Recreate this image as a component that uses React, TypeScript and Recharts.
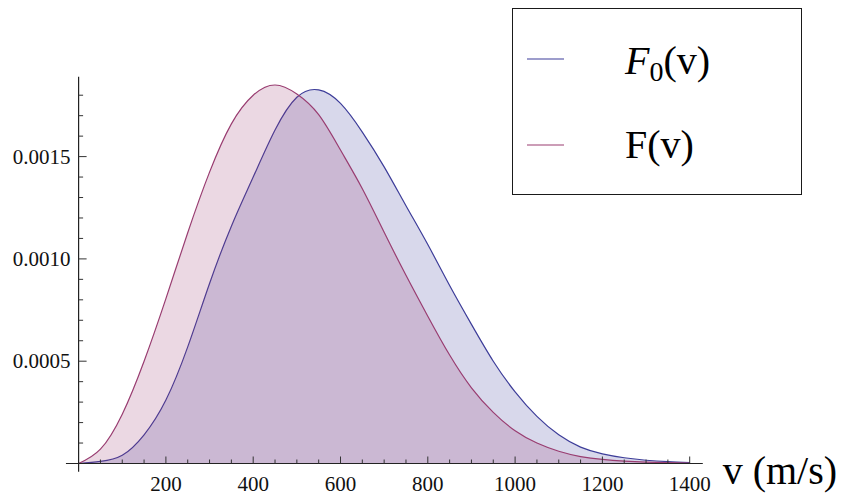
import { AreaChart, Area, XAxis, YAxis, ReferenceLine, Legend } from 'recharts'

const speeds = [0, 50, 100, 150, 200, 250, 300, 350, 400, 450, 500, 550, 600, 650, 700, 750, 800, 850, 900, 950, 1000, 1050, 1100, 1150, 1200, 1250, 1300, 1350, 1400]
const f0Values = [0, 0.00001, 0.00004, 0.00014, 0.00031, 0.00057, 0.00088, 0.00116, 0.0014, 0.00163, 0.00179, 0.001826, 0.00176, 0.00162, 0.00145, 0.00126, 0.00107, 0.00087, 0.00068, 0.0005, 0.00035, 0.00023, 0.00014, 0.00008, 0.000047, 0.000028, 0.000016, 0.000009, 0.000005]
const fValues = [0, 0.00007, 0.000241, 0.0005, 0.000806, 0.001128, 0.001424, 0.00166, 0.0018, 0.00185, 0.001806, 0.001705, 0.001532, 0.001343, 0.00113, 0.00092, 0.00072, 0.00053, 0.00037, 0.00025, 0.00016, 0.0001, 0.00006, 0.000034, 0.00002, 0.000012, 0.000007, 0.000004, 0.000002]

const xTicks = [50, 100, 150, 200, 250, 300, 350, 400, 450, 500, 550, 600, 650, 700, 750, 800, 850, 900, 950, 1000, 1050, 1100, 1150, 1200, 1250, 1300, 1350, 1400]
const yTicks = [0.0001, 0.0002, 0.0003, 0.0004, 0.0005, 0.0006, 0.0007, 0.0008, 0.0009, 0.001, 0.0011, 0.0012, 0.0013, 0.0014, 0.0015, 0.0016, 0.0017, 0.0018]

const BLUE = 'rgb(61,61,153)'
const PURPLE = 'rgb(153,61,113)'
const SERIF = '"Liberation Serif", "Times New Roman", serif'

const data = speeds.map((v, i) => ({ v, f0: f0Values[i], f: fValues[i] }))

const XTick = ({ x, y, payload }: any) => {
  const v = payload.value
  const major = v % 200 === 0
  return (
    <g>
      <line x1={x} x2={x} y1={y} y2={y - (major ? 7 : 4)} stroke="#333" />
      {major && (
        <text x={x} y={y + 27} textAnchor="middle" fontSize={21} fontFamily={SERIF} fill="#111">{v}</text>
      )}
    </g>
  )
}

const YTick = ({ x, y, payload }: any) => {
  const major = Math.round(payload.value * 10000) % 5 === 0
  return (
    <g>
      <line x1={x} x2={x + (major ? 8 : 4.5)} y1={y} y2={y} stroke="#333" />
      {major && (
        <text x={x - 8} y={y} textAnchor="end" dominantBaseline="central" fontSize={21} fontFamily={SERIF} fill="#111">
          {payload.value.toFixed(4)}
        </text>
      )}
    </g>
  )
}

const renderLegend = () => (
  <div style={{ width: '100%', height: '100%', border: '1.5px solid #1a1a1a', boxSizing: 'border-box', background: '#fff' }}>
    <svg width={288} height={184} style={{ display: 'block' }}>
      <line x1={14} x2={51} y1={50} y2={50} stroke={BLUE} strokeWidth={1.2} />
      <text x={112} y={65} fontSize={40} fontFamily={SERIF} fill="#000">
        <tspan fontStyle="italic">F</tspan>
        <tspan fontSize={28} dy={7}>0</tspan>
        <tspan dy={-7}>(v)</tspan>
      </text>
      <line x1={14} x2={51} y1={136} y2={136} stroke={PURPLE} strokeWidth={1.2} />
      <text x={112} y={148.5} fontSize={40} fontFamily={SERIF} fill="#000">F(v)</text>
    </svg>
  </div>
)

export default function App() {
  return (
    <>
      <style>{'body { margin: 0; overflow: hidden; }'}</style>
      <AreaChart
        width={844}
        height={495}
        data={data}
        margin={{ top: 76.8, right: 154.3, bottom: 30.5, left: 77.6 }}
      >
        <XAxis
          type="number"
          dataKey="v"
          domain={[0, 1400]}
          ticks={xTicks}
          interval={0}
          height={1}
          tickSize={0}
          tickMargin={0}
          axisLine={false}
          tickLine={false}
          tick={XTick}
          label={(props: any) => {
            const vb = props.viewBox
            return (
              <text x={vb.x + vb.width + 33} y={vb.y + 20} fontSize={40} fontFamily={SERIF} fill="#000">v (m/s)</text>
            )
          }}
        />
        <YAxis
          type="number"
          domain={[0, 0.00189]}
          ticks={yTicks}
          interval={0}
          width={1}
          tickSize={0}
          tickMargin={0}
          axisLine={false}
          tickLine={false}
          tick={YTick}
          allowDataOverflow
        />
        <Area type="natural" dataKey="f0" stroke={BLUE} strokeWidth={1.2} fill={BLUE} fillOpacity={0.2} dot={false} activeDot={false} isAnimationActive={false} />
        <Area type="natural" dataKey="f" stroke={PURPLE} strokeWidth={1.2} fill={PURPLE} fillOpacity={0.2} dot={false} activeDot={false} isAnimationActive={false} />
        <ReferenceLine segment={[{ x: -29, y: 0 }, { x: 1430, y: 0 }]} stroke="#222" strokeWidth={1.2} ifOverflow="visible" />
        <ReferenceLine segment={[{ x: 0, y: -0.00004 }, { x: 0, y: 0.00189 }]} stroke="#222" strokeWidth={1.2} ifOverflow="visible" />
        <Legend
          content={renderLegend}
          layout="horizontal"
          verticalAlign="middle"
          align="center"
          wrapperStyle={{ position: 'absolute', left: 511.7, top: 8.3, width: 290.6, height: 186.7 }}
        />
      </AreaChart>
    </>
  )
}
